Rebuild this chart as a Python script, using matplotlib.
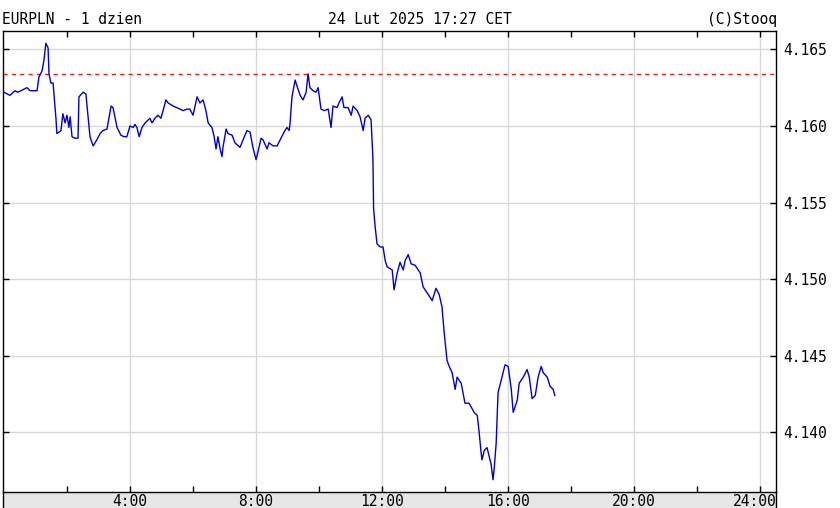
import numpy as np
import matplotlib.pyplot as plt
from matplotlib.ticker import FixedLocator
from matplotlib.transforms import ScaledTranslation

# EURPLN intraday, 24 Feb 2025 (hours since midnight, price)
godz = [0.00, 0.19, 0.35, 0.44, 0.73, 0.83, 1.05, 1.11, 1.21, 1.27,
        1.33, 1.40, 1.43, 1.49, 1.56, 1.59, 1.65, 1.68, 1.81, 1.87,
        1.94, 2.00, 2.06, 2.10, 2.16, 2.25, 2.35, 2.38, 2.51, 2.60,
        2.67, 2.73, 2.83, 2.95, 3.05, 3.14, 3.27, 3.40, 3.46, 3.52,
        3.59, 3.71, 3.81, 3.90, 4.00, 4.10, 4.16, 4.22, 4.29, 4.38,
        4.48, 4.63, 4.70, 4.79, 4.89, 4.98, 5.05, 5.14, 5.21, 5.37,
        5.59, 5.68, 5.81, 5.90, 6.00, 6.13, 6.22, 6.32, 6.41, 6.48,
        6.60, 6.67, 6.73, 6.79, 6.86, 6.92, 6.95, 7.05, 7.11, 7.24,
        7.33, 7.49, 7.59, 7.71, 7.81, 7.90, 8.00, 8.06, 8.16, 8.22,
        8.35, 8.41, 8.54, 8.67, 8.79, 8.89, 8.98, 9.05, 9.08, 9.14,
        9.24, 9.30, 9.40, 9.49, 9.59, 9.65, 9.71, 9.81, 9.90, 9.97,
        10.06, 10.16, 10.29, 10.38, 10.44, 10.57, 10.63, 10.73, 10.79, 10.92,
        11.02, 11.08, 11.21, 11.30, 11.40, 11.46, 11.56, 11.65, 11.71, 11.73,
        11.78, 11.84, 11.94, 12.03, 12.10, 12.16, 12.32, 12.38, 12.48, 12.57,
        12.67, 12.73, 12.83, 12.92, 13.05, 13.21, 13.30, 13.43, 13.59, 13.71,
        13.81, 13.90, 13.97, 14.06, 14.13, 14.22, 14.32, 14.38, 14.51, 14.63,
        14.76, 14.92, 15.02, 15.08, 15.14, 15.17, 15.24, 15.33, 15.40, 15.46,
        15.52, 15.56, 15.62, 15.65, 15.68, 15.78, 15.90, 16.00, 16.10, 16.16,
        16.29, 16.35, 16.48, 16.60, 16.67, 16.76, 16.86, 16.95, 17.05, 17.11,
        17.24, 17.33, 17.43, 17.48]
kurs = [4.1622, 4.1620, 4.1623, 4.1622, 4.1625, 4.1623, 4.1623, 4.1632, 4.1636, 4.1643,
        4.1654, 4.1651, 4.1634, 4.1628, 4.1628, 4.1620, 4.1605, 4.1595, 4.1597, 4.1608,
        4.1602, 4.1607, 4.1599, 4.1606, 4.1593, 4.1592, 4.1592, 4.1619, 4.1622, 4.1621,
        4.1606, 4.1593, 4.1587, 4.1591, 4.1595, 4.1597, 4.1598, 4.1613, 4.1612, 4.1606,
        4.1599, 4.1594, 4.1593, 4.1593, 4.1600, 4.1599, 4.1601, 4.1599, 4.1593, 4.1599,
        4.1602, 4.1605, 4.1602, 4.1605, 4.1607, 4.1605, 4.1610, 4.1617, 4.1615, 4.1613,
        4.1611, 4.1610, 4.1611, 4.1611, 4.1607, 4.1619, 4.1615, 4.1617, 4.1610, 4.1602,
        4.1599, 4.1593, 4.1585, 4.1593, 4.1585, 4.1580, 4.1586, 4.1598, 4.1595, 4.1594,
        4.1589, 4.1586, 4.1591, 4.1597, 4.1596, 4.1586, 4.1578, 4.1583, 4.1592, 4.1591,
        4.1585, 4.1589, 4.1587, 4.1587, 4.1592, 4.1596, 4.1599, 4.1597, 4.1602, 4.1619,
        4.1630, 4.1626, 4.1620, 4.1617, 4.1622, 4.1634, 4.1625, 4.1623, 4.1622, 4.1625,
        4.1611, 4.1610, 4.1611, 4.1599, 4.1613, 4.1612, 4.1615, 4.1619, 4.1612, 4.1612,
        4.1607, 4.1613, 4.1610, 4.1606, 4.1597, 4.1605, 4.1607, 4.1604, 4.1578, 4.1546,
        4.1534, 4.1523, 4.1521, 4.1521, 4.1512, 4.1508, 4.1506, 4.1493, 4.1504, 4.1511,
        4.1506, 4.1512, 4.1516, 4.1510, 4.1509, 4.1504, 4.1495, 4.1491, 4.1486, 4.1494,
        4.1490, 4.1482, 4.1465, 4.1447, 4.1443, 4.1439, 4.1428, 4.1436, 4.1432, 4.1419,
        4.1419, 4.1413, 4.1411, 4.1400, 4.1387, 4.1382, 4.1388, 4.1390, 4.1384, 4.1379,
        4.1369, 4.1377, 4.1393, 4.1410, 4.1426, 4.1434, 4.1444, 4.1443, 4.1428, 4.1413,
        4.1421, 4.1432, 4.1436, 4.1441, 4.1436, 4.1422, 4.1424, 4.1436, 4.1443, 4.1439,
        4.1436, 4.1430, 4.1428, 4.1424]
poprz_zamkniecie = 4.1634

x_etykiety = ['4:00', '8:00', '12:00', '16:00', '20:00', '24:00']
x_glowne = [4, 8, 12, 16, 20, 24]
x_pomocnicze = [2, 6, 10, 14, 18, 22]
y_ticki = [4.140, 4.145, 4.150, 4.155, 4.160, 4.165]

W, H = 840, 508
fig = plt.figure(figsize=(W / 100, H / 100), dpi=100)
plt.rcParams['font.family'] = ['DejaVu Sans Mono']

# glowny wykres
ax = fig.add_axes([3 / W, 16 / H, 773 / W, 461 / H], zorder=2)
# szary pasek pod osia X
pasek = fig.add_axes([3 / W, 0, 773 / W, 16 / H], zorder=1)
pasek.set_facecolor('#e6e6e6')
pasek.set_xticks([])
pasek.set_yticks([])
pasek.spines['top'].set_visible(False)
pasek.spines['bottom'].set_visible(False)
for s in ('left', 'right'):
    pasek.spines[s].set_linewidth(1.0)

ax.plot(godz, kurs, color='#0000cc', linewidth=1.0, zorder=3)
ax.axhline(poprz_zamkniecie, color='#e02020', linewidth=1.0,
           linestyle=(0, (3, 3)), zorder=2)

ax.set_xlim(-0.03, 24.5)
ax.set_ylim(4.1361, 4.1662)

ax.xaxis.set_major_locator(FixedLocator(x_glowne))
ax.xaxis.set_minor_locator(FixedLocator(x_pomocnicze))
ax.set_xticklabels(x_etykiety)
ax.set_yticks(y_ticki)
ax.set_yticklabels(['%.3f' % v for v in y_ticki])

ax.grid(True, which='major', color='#d8d8d8', linewidth=1.0)
ax.set_axisbelow(True)

ax.tick_params(axis='x', which='both', direction='in', top=True, bottom=True,
               length=4, width=1, labelsize=10.5, pad=1.5)
ax.tick_params(axis='y', which='both', direction='in', left=True, right=True,
               labelleft=False, labelright=True, length=4, width=1,
               labelsize=10.5, pad=5)
for s in ax.spines.values():
    s.set_linewidth(1.0)

# ostatnia etykieta dosunieta do prawej krawedzi
ost = ax.get_xticklabels()[-1]
ost.set_horizontalalignment('right')
ost.set_transform(ost.get_transform() + ScaledTranslation(0.16, 0, fig.dpi_scale_trans))

fig.text(2 / W, 1 - 24 / H, 'EURPLN - 1 dzien', ha='left', va='baseline', fontsize=10.5)
fig.text(420 / W, 1 - 24 / H, '24 Lut 2025 17:27 CET', ha='center', va='baseline', fontsize=10.5)
fig.text(777 / W, 1 - 24 / H, '(C)Stooq', ha='right', va='baseline', fontsize=10.5)

fig.savefig('out.png', dpi=100, facecolor='white')
